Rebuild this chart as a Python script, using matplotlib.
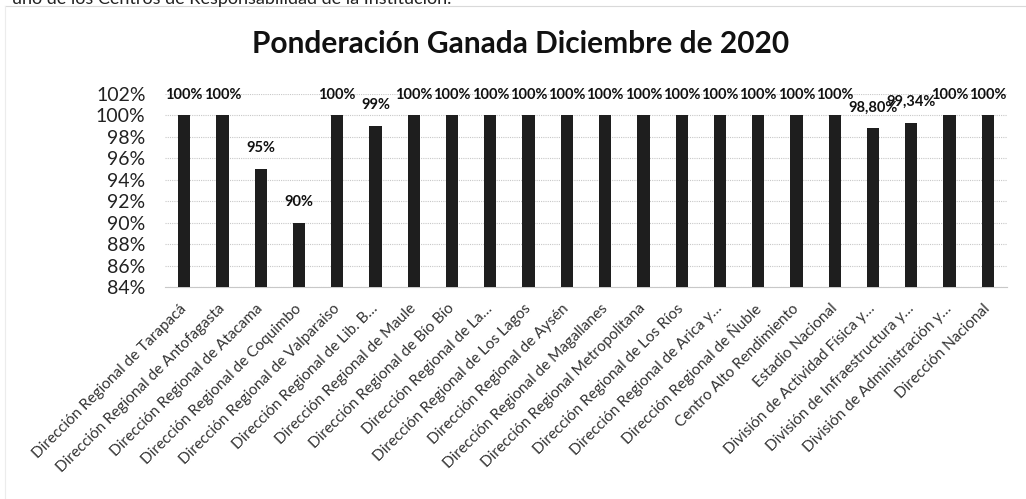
import matplotlib.pyplot as plt
from matplotlib.ticker import FuncFormatter

categorias = [
    "Dirección Regional de Tarapacá",
    "Dirección Regional de Antofagasta",
    "Dirección Regional de Atacama",
    "Dirección Regional de Coquimbo",
    "Dirección Regional de Valparaiso",
    "Dirección Regional de Lib. B…",
    "Dirección Regional de Maule",
    "Dirección Regional de Bío Bío",
    "Dirección Regional de La…",
    "Dirección Regional de Los Lagos",
    "Dirección Regional de Aysén",
    "Dirección Regional de Magallanes",
    "Dirección Regional Metropolitana",
    "Dirección Regional de Los Ríos",
    "Dirección Regional de Arica y…",
    "Dirección Regional de Ñuble",
    "Centro Alto Rendimiento",
    "Estadio Nacional",
    "División de Actividad Física y…",
    "División de Infraestructura y…",
    "División de Administración y…",
    "Dirección Nacional",
]
ponderacion = [100, 100, 95, 90, 100, 99, 100, 100, 100, 100, 100,
               100, 100, 100, 100, 100, 100, 100, 98.80, 99.34, 100, 100]
ticks_y = [84, 86, 88, 90, 92, 94, 96, 98, 100, 102]


def etiqueta(v):
    if float(v).is_integer():
        return "%d%%" % v
    return ("%.2f%%" % v).replace(".", ",")


plt.rcParams["font.family"] = ["Lato", "DejaVu Sans"]

fig = plt.figure(figsize=(10.26, 4.99), dpi=100)

# texto cortado del documento, arriba
fig.text(0.012, 1 - 4 / 499, "uno de los Centros de Responsabilidad de la Institución.",
         fontsize=13, color="#222222", va="baseline", ha="left")
fig.add_artist(plt.Line2D([5 / 1026, 1.0], [1 - 6 / 499, 1 - 6 / 499],
                          color="#d9d9d9", lw=0.8))
fig.add_artist(plt.Line2D([5 / 1026, 5 / 1026], [0.0, 1 - 6 / 499],
                          color="#ececec", lw=0.8))

ax = fig.add_axes([165 / 1026, 212 / 499, 842 / 1026, 193 / 499])

x = list(range(len(categorias)))
barras = ax.bar(x, [v - 84 for v in ponderacion], bottom=84, width=0.32,
                color="#1e1e1e", zorder=3)

for xi, v in zip(x, ponderacion):
    ax.annotate(etiqueta(v), (xi, v), xytext=(0, 15), textcoords="offset points",
                ha="center", va="center", fontsize=10.5, fontweight="bold",
                color="#111111", zorder=4)

ax.set_xlim(-0.5, len(categorias) - 0.5)
ax.set_ylim(84, 102)
ax.set_yticks(ticks_y)
ax.yaxis.set_major_formatter(FuncFormatter(lambda v, p: "%d%%" % v))
ax.grid(axis="y", color="#c8c8c8", lw=0.8, linestyle=(0, (1, 1)), zorder=0)

ax.set_xticks(x)
ax.set_xticklabels(categorias, rotation=45, ha="right", va="center",
                   rotation_mode="anchor", fontsize=11, color="#333333")
ax.tick_params(axis="x", length=0, pad=14)
ax.tick_params(axis="y", length=0, pad=14, labelsize=14, labelcolor="#222222")

for s in ["top", "right", "left"]:
    ax.spines[s].set_visible(False)
ax.spines["bottom"].set_color("#c8c8c8")
ax.spines["bottom"].set_linewidth(0.8)

fig.text(521 / 1026, 1 - 44 / 499, "Ponderación Ganada Diciembre de 2020",
         ha="center", va="center", fontsize=21.5, fontweight="bold", color="#111111")

fig.savefig("out.png", dpi=100)
